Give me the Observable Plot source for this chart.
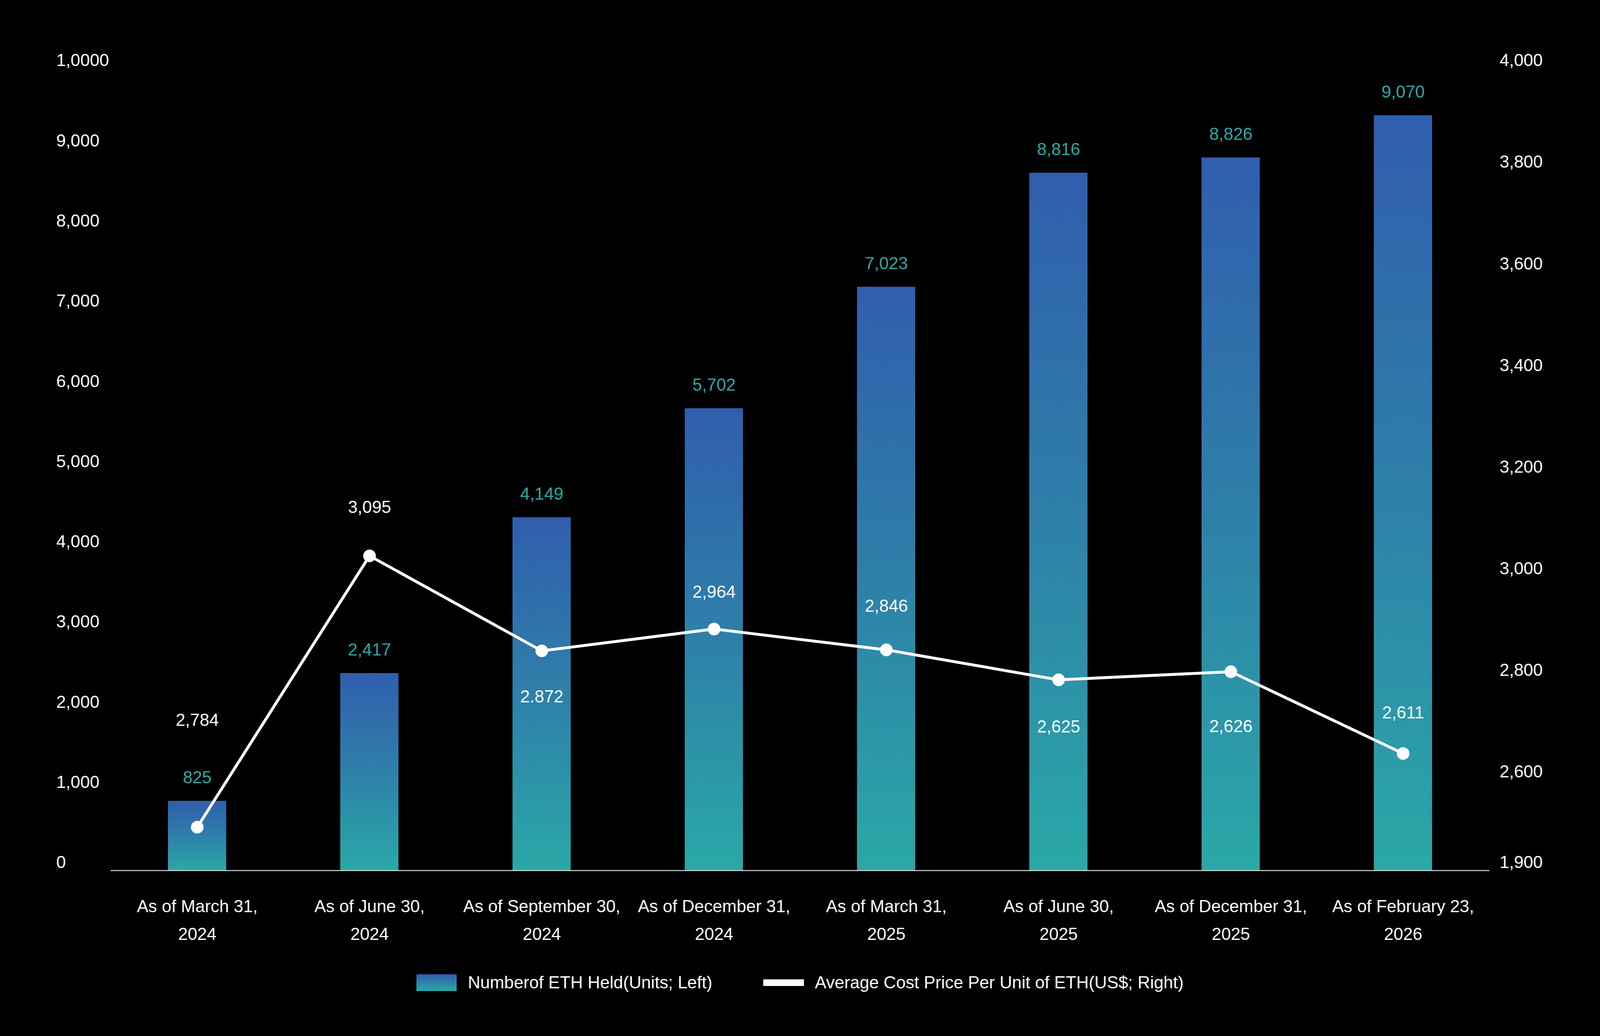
<!DOCTYPE html>
<html>
<head>
<meta charset="utf-8">
<script src="https://cdn.jsdelivr.net/npm/d3@7"></script>
<script src="https://cdn.jsdelivr.net/npm/@observablehq/plot@0.6"></script>
<style>
  html, body { margin: 0; padding: 0; background: #000; overflow: hidden; width: 100%; height: 100%; }
  #chart { line-height: 0; }
  #legend {
    display: flex; align-items: center; justify-content: center;
    font-family: 'Liberation Sans', Arial, sans-serif; color: #fff; white-space: nowrap;
  }
  .sw-bar { background: linear-gradient(to bottom, #305EAE, #2AA8A7); }
  .sw-line { background: #fff; }
</style>
</head>
<body>
<div id="chart"></div>
<div id="legend">
  <div class="sw-bar"></div><span id="lg1">Numberof ETH Held(Units; Left)</span>
  <div class="sw-line"></div><span id="lg2">Average Cost Price Per Unit of ETH(US$; Right)</span>
</div>
<script>
// ---- data ----
const categories = [
  "As of March 31, 2024", "As of June 30, 2024", "As of September 30, 2024", "As of December 31, 2024",
  "As of March 31, 2025", "As of June 30, 2025", "As of December 31, 2025", "As of February 23, 2026"
];
// bar heights as drawn (left axis, units)
const ethHeld = [867, 2460, 4403, 5762, 7277, 8699, 8889, 9415];
// bar labels as printed
const ethHeldLabels = ["825", "2,417", "4,149", "5,702", "7,023", "8,816", "8,826", "9,070"];
// line points as drawn (right axis, US$)
const avgCost = [2235, 3041, 2854, 2897, 2856, 2797, 2813, 2652];
// line labels as printed
const avgCostLabels = ["2,784", "3,095", "2.872", "2,964", "2,846", "2,625", "2,626", "2,611"];

const leftTicks = [0, 1000, 2000, 3000, 4000, 5000, 6000, 7000, 8000, 9000, 10000];
const leftTickLabels = ["0", "1,000", "2,000", "3,000", "4,000", "5,000", "6,000", "7,000", "8,000", "9,000", "1,0000"];
const rightTicks = [1900, 2600, 2800, 3000, 3200, 3400, 3600, 3800, 4000];
// broken right axis: 1900–2600 compressed, 2600–4000 linear
const rightBreaks = [1900, 2600, 4000];
const rightBreakUnits = [0, 1130, 10000];

// label placement (style): vertical offsets of cost labels from their points (design px)
const costLabelDy = [-275, -126, 116, -96, -113, 119, 139, -106];

// ---- layout: design at 5565 x 2652, fitted to the actual viewport ----
const W = document.documentElement.clientWidth || window.innerWidth;
const H = document.documentElement.clientHeight || window.innerHeight;
const sx = W / 5565, sy = H / 2652, fs = Math.min(sx, sy);
const font = 60 * fs;

const toLeft = d3.scaleLinear().domain(rightBreaks).range(rightBreakUnits);
const fmt = d3.format(",");
const bars = categories.map((c, i) => ({cat: c, held: ethHeld[i], label: ethHeldLabels[i]}));
const costs = categories.map((c, i) => ({cat: c, u: toLeft(avgCost[i]), label: avgCostLabels[i]}));

function gradientDefs() {
  const ns = "http://www.w3.org/2000/svg";
  const defs = document.createElementNS(ns, "defs");
  const g = document.createElementNS(ns, "linearGradient");
  g.setAttribute("id", "ethGrad");
  g.setAttribute("x1", "0"); g.setAttribute("y1", "0");
  g.setAttribute("x2", "0"); g.setAttribute("y2", "1");
  [["0%", "#305EAE"], ["50%", "#2E80A9"], ["100%", "#2AA8A7"]].forEach(([o, c]) => {
    const s = document.createElementNS(ns, "stop");
    s.setAttribute("offset", o); s.setAttribute("stop-color", c);
    g.appendChild(s);
  });
  defs.appendChild(g);
  return defs;
}

const svgH = Math.round(2440 * sy);
const baseY = 2228 * sy;                      // pixel y of the zero line
const capHalf = 0.358 * font;                 // half the digit/cap height
const midFix = capHalf - 0.32 * font;         // Plot middle-anchor correction
const xLine1Top = 2300 * sy - capHalf;        // top of first x-label line

const chart = Plot.plot({
  width: W,
  height: svgH,
  marginTop: 175 * sy,
  marginBottom: svgH - baseY,
  marginLeft: 385 * sx,
  marginRight: 385 * sx,
  style: {
    background: "#000",
    color: "#fff",
    fontFamily: "'Liberation Sans', Arial, sans-serif",
    fontSize: font + "px"
  },
  x: {type: "band", domain: categories, paddingInner: 0.663, paddingOuter: 0.3315},
  y: {domain: [0, 10000]},
  marks: [
    gradientDefs,
    Plot.barY(bars, {x: "cat", y: "held", fill: "url(#ethGrad)"}),
    Plot.ruleY([0], {stroke: "#d9d9d9", strokeWidth: 3.5 * fs}),
    Plot.line(costs, {x: "cat", y: "u", stroke: "#fff", strokeWidth: 10 * fs}),
    Plot.dot(costs, {x: "cat", y: "u", r: 22 * fs, fill: "#fff", stroke: null}),
    Plot.text(bars, {x: "cat", y: "held", text: "label", fill: "#29AAA6", dy: -61 * sy + midFix}),
    ...costs.map((d, i) => Plot.text([d], {x: "cat", y: "u", text: "label", fill: "#fff", dy: costLabelDy[i] * sy + midFix})),
    Plot.axisX({
      tickSize: 0, tickPadding: xLine1Top - baseY, label: null, lineHeight: (71 * sy) / font,
      tickFormat: (d) => d.replace(", ", ",\n")
    }),
    Plot.axisY(leftTicks, {
      anchor: "left", tickSize: 0, tickPadding: 190 * sx, textAnchor: "start", dy: -22 * sy + midFix, label: null,
      tickFormat: (d) => leftTickLabels[leftTicks.indexOf(d)]
    }),
    Plot.axisY(rightTicks.map(toLeft), {
      anchor: "right", tickSize: 0, tickPadding: 35 * sx, textAnchor: "start", dy: -22 * sy + midFix, label: null,
      tickFormat: (u) => fmt(Math.round(toLeft.invert(u)))
    })
  ]
});
chart.style.maxWidth = "none";
document.getElementById("chart").appendChild(chart);

// legend below the SVG
const lg = document.getElementById("legend");
lg.style.width = W + "px";
lg.style.height = Math.round(150 * sy) + "px";
lg.style.fontSize = font + "px";
const swb = lg.querySelector(".sw-bar");
swb.style.width = 140 * sx + "px"; swb.style.height = 43 * sy + "px"; swb.style.marginRight = 39 * sx + "px";
const swl = lg.querySelector(".sw-line");
swl.style.width = 141 * sx + "px"; swl.style.height = 17 * sy + "px";
swl.style.marginLeft = 178 * sx + "px"; swl.style.marginRight = 38 * sx + "px";
</script>
</body>
</html>
